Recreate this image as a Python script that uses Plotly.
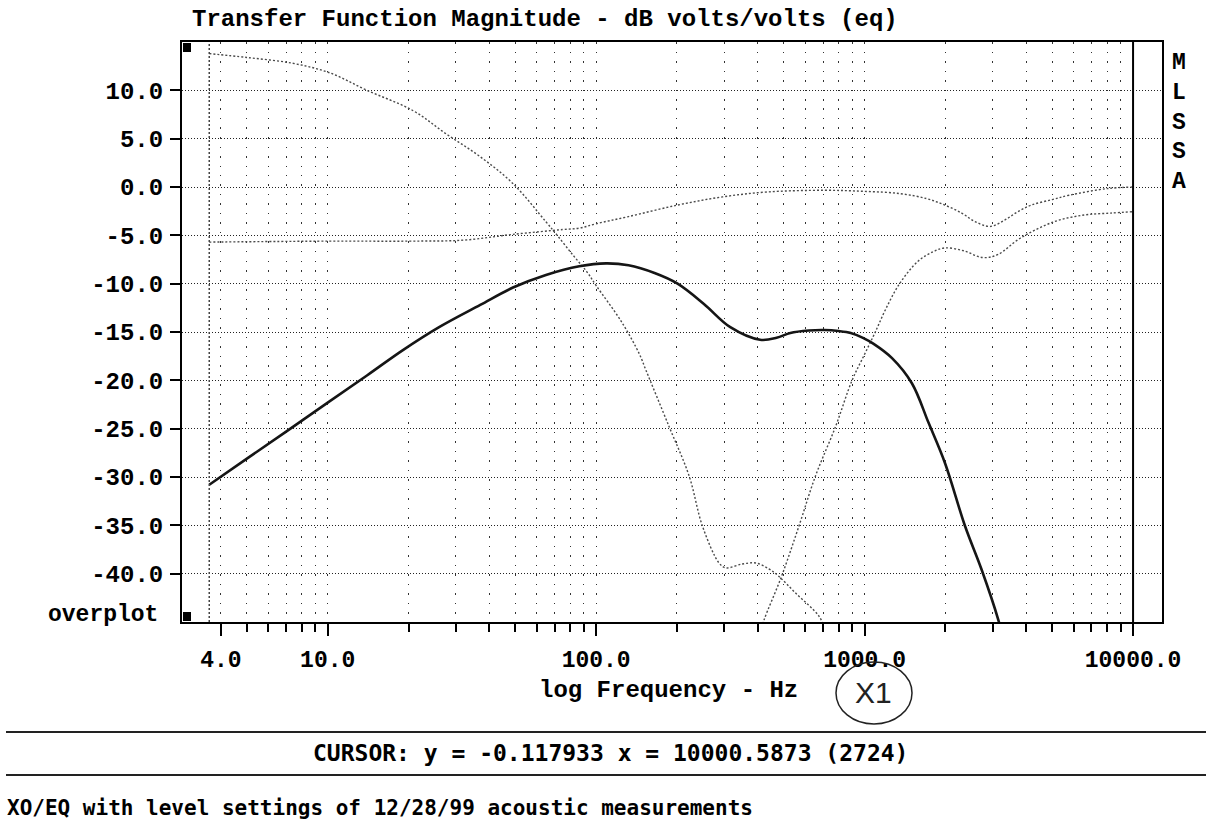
import plotly.graph_objects as go

# ---------------- data ----------------
freq_main = [3.62, 5, 7, 10, 14, 19, 26, 37, 49, 65, 86.5, 109, 132, 165, 201, 252,
             316, 408, 470, 529, 620, 708, 800, 888, 986, 1077, 1265, 1500, 1731,
             1995, 2368, 2729, 3150, 3300]
db_main = [-30.8, -28.1, -25.3, -22.3, -19.5, -16.9, -14.5, -12.2, -10.4, -9.1, -8.2,
           -7.9, -8.1, -8.9, -10.0, -12.1, -14.5, -15.8, -15.6, -15.1, -14.85, -14.8,
           -14.9, -15.1, -15.6, -16.2, -17.7, -20.3, -24.4, -28.6, -35.1, -39.6,
           -44.8, -47.0]

freq_lp = [3.62, 5, 7.4, 10.2, 14, 20.8, 27.6, 36.7, 48.8, 65, 71.6, 81.7, 92.5, 100,
           124, 145, 153, 187, 222, 249, 287, 304, 350, 393, 440, 480, 553, 676, 720]
db_lp = [13.8, 13.4, 12.8, 11.8, 10.0, 7.9, 5.5, 3.2, 0.4, -3.6, -5.0, -7.0, -8.8,
         -10.2, -13.9, -17.3, -18.9, -24.8, -29.9, -35.1, -38.9, -39.4, -39.0, -38.9,
         -39.5, -40.3, -42.0, -44.4, -46.0]

freq_flat = [3.62, 10, 20, 32, 49, 75, 86.8, 100, 132, 201, 296, 436, 708, 1000, 1350,
             1700, 1990, 2300, 2576, 2930, 3335, 3700, 4180, 5000, 5780, 7980, 10000]
db_flat = [-5.7, -5.6, -5.6, -5.5, -4.9, -4.4, -4.25, -3.8, -3.06, -1.87, -1.02,
           -0.51, -0.34, -0.45, -0.68, -1.2, -1.87, -2.7, -3.57, -4.08, -3.4, -2.6,
           -1.87, -1.3, -0.85, -0.17, 0.0]

freq_hp = [410, 422, 490, 569, 656, 779, 898, 1000, 1096, 1200, 1350, 1585, 1800, 1990,
           2340, 2754, 3130, 3800, 5070, 6570, 8250, 10000]
db_hp = [-46.0, -44.8, -40.3, -35.1, -29.9, -24.8, -20.0, -17.3, -15.0, -12.6, -10.0,
         -7.65, -6.7, -6.3, -6.6, -7.3, -7.0, -5.3, -3.6, -2.9, -2.7, -2.55]

y_ticks = [10, 5, 0, -5, -10, -15, -20, -25, -30, -35, -40]
y_ticktext = ["10.0", "5.0", "0.0", "-5.0", "-10.0", "-15.0", "-20.0", "-25.0",
              "-30.0", "-35.0", "-40.0"]
x_ticks = [4, 10, 100, 1000, 10000]
x_ticktext = ["4.0", "10.0", "100.0", "1000.0", "10000.0"]
x_minor = [5, 6, 7, 8, 9, 20, 30, 40, 50, 60, 70, 80, 90, 200, 300, 400, 500, 600,
           700, 800, 900, 2000, 3000, 4000, 5000, 6000, 7000, 8000, 9000]

title_text = "Transfer Function Magnitude - dB volts/volts (eq)"
x_title = "log Frequency - Hz"
cursor_text = "CURSOR: y = -0.117933 x = 10000.5873 (2724)"
footer_text = "XO/EQ with level settings of 12/28/99 acoustic measurements"
side_letters = ["M", "L", "S", "S", "A"]

# ---------------- layout helpers ----------------
W, H = 1210, 820
L, R, T, B = 182, 1162, 42, 622


def px(x):
    return (x - L) / (R - L)


def py(y):
    return (B - y) / (B - T)


MONO = "Liberation Mono"
DOS = "DejaVu Sans Mono"

fig = go.Figure()
dotted = dict(color="#4a4a4a", width=1.4, dash="2px,2px", shape="spline", smoothing=1.0)
fig.add_trace(go.Scatter(x=freq_lp, y=db_lp, mode="lines", line=dotted, hoverinfo="skip"))
fig.add_trace(go.Scatter(x=freq_flat, y=db_flat, mode="lines", line=dotted, hoverinfo="skip"))
fig.add_trace(go.Scatter(x=freq_hp, y=db_hp, mode="lines", line=dotted, hoverinfo="skip"))
fig.add_trace(go.Scatter(x=freq_main, y=db_main, mode="lines",
                         line=dict(color="#151515", width=2.6, shape="spline", smoothing=1.0),
                         hoverinfo="skip"))

fig.update_xaxes(
    type="log", range=[0.4572, 4.1078],
    tickvals=x_ticks, ticktext=x_ticktext,
    ticks="outside", ticklen=12, tickwidth=2, tickcolor="black",
    tickfont=dict(family=MONO, size=23, color="black", weight="bold"),
    ticklabelstandoff=3,
    showgrid=True, gridcolor="#333", gridwidth=1, griddash="1.5px,8px",
    minor=dict(tickvals=x_minor, ticks="outside", ticklen=8, tickwidth=2,
               tickcolor="black", showgrid=True, gridcolor="#333", gridwidth=1,
               griddash="1.5px,8px"),
    showline=True, linewidth=2, linecolor="black", mirror=True, zeroline=False,
)
fig.update_yaxes(
    range=[-45, 15], tickvals=y_ticks, ticktext=y_ticktext,
    ticks="outside", ticklen=10, tickwidth=2, tickcolor="black",
    tickfont=dict(family=MONO, size=24, color="black", weight="bold"),
    ticklabelstandoff=2,
    showgrid=True, gridcolor="#222", gridwidth=1, griddash="1px,2px",
    showline=True, linewidth=2, linecolor="black", mirror=True, zeroline=False,
)

shapes = []
# inner boundary at 10 kHz
shapes.append(dict(type="line", xref="x", yref="paper", x0=10000, x1=10000, y0=0, y1=1,
                   line=dict(color="black", width=2)))
# start-of-data marker line
shapes.append(dict(type="line", xref="x", yref="paper", x0=freq_main[0], x1=freq_main[0],
                   y0=0, y1=1, line=dict(color="#444", width=1.5, dash="2px,2px")))
# black squares
shapes.append(dict(type="rect", xref="paper", yref="paper", x0=px(183), x1=px(191),
                   y0=py(52), y1=py(43), fillcolor="black", line=dict(width=0)))
shapes.append(dict(type="rect", xref="paper", yref="paper", x0=px(183), x1=px(191),
                   y0=py(621), y1=py(612), fillcolor="black", line=dict(width=0)))
# separator lines
for yy in (732, 775):
    shapes.append(dict(type="line", xref="paper", yref="paper", x0=px(6), x1=px(1206),
                       y0=py(yy), y1=py(yy), line=dict(color="#222", width=2)))
# hand-drawn circle
shapes.append(dict(type="circle", xref="paper", yref="paper", x0=px(836), x1=px(912),
                   y0=py(724), y1=py(662), line=dict(color="#222", width=1.5)))

annotations = []
annotations.append(dict(text=title_text, xref="paper", yref="paper", x=px(190), y=py(19),
                        xanchor="left", yanchor="middle", showarrow=False,
                        font=dict(family=MONO, size=24, color="black", weight="bold")))
annotations.append(dict(text=x_title, xref="paper", yref="paper", x=px(668), y=py(690),
                        xanchor="center", yanchor="middle", showarrow=False,
                        font=dict(family=MONO, size=24, color="black", weight="bold")))
annotations.append(dict(text="overplot", xref="paper", yref="paper", x=px(160), y=py(615),
                        xanchor="right", yanchor="middle", showarrow=False,
                        font=dict(family=MONO, size=23, color="black", weight="bold")))
for i, ch in enumerate(side_letters):
    annotations.append(dict(text=ch, xref="paper", yref="paper", x=px(1179),
                            y=py(63 + i * 29.8), xanchor="center", yanchor="middle",
                            showarrow=False,
                            font=dict(family=MONO, size=23, color="black", weight="bold")))
annotations.append(dict(text="X1", xref="paper", yref="paper", x=px(873), y=py(692),
                        xanchor="center", yanchor="middle", showarrow=False,
                        font=dict(family="Liberation Sans Narrow, Liberation Sans", size=30,
                                  color="#222")))
annotations.append(dict(text=cursor_text, xref="paper", yref="paper", x=px(610), y=py(753),
                        xanchor="center", yanchor="middle", showarrow=False,
                        font=dict(family=DOS, size=23, color="black", weight="bold")))
annotations.append(dict(text=footer_text, xref="paper", yref="paper", x=px(5), y=py(808),
                        xanchor="left", yanchor="middle", showarrow=False,
                        font=dict(family=DOS, size=21, color="black", weight="bold")))

fig.update_layout(
    width=W, height=H,
    margin=dict(l=L, r=W - R, t=T, b=H - B),
    plot_bgcolor="white", paper_bgcolor="white",
    showlegend=False, shapes=shapes, annotations=annotations,
    font=dict(family=MONO, color="black"),
)

fig.write_html("out.html")
